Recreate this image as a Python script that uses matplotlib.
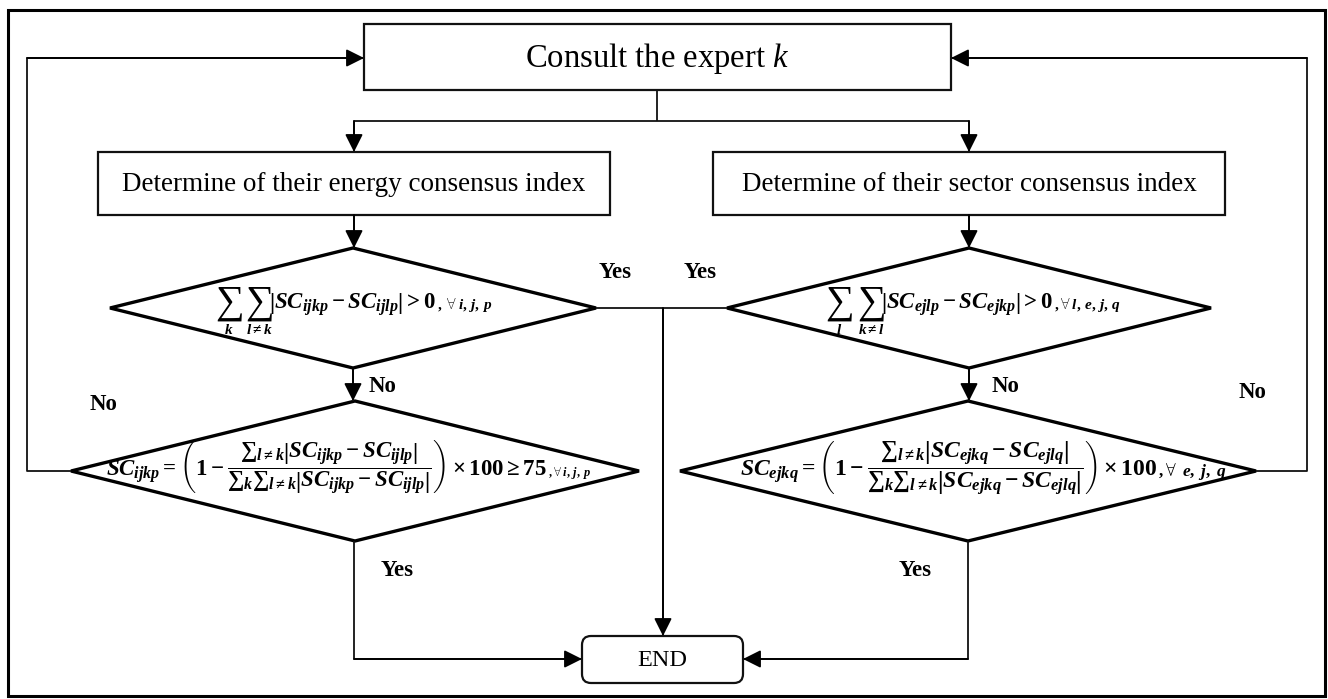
import matplotlib
matplotlib.use("Agg")
import matplotlib.pyplot as plt
from matplotlib.patches import Rectangle, Polygon, FancyBboxPatch

plt.rcParams['mathtext.fontset'] = 'custom'
plt.rcParams['mathtext.it'] = 'Liberation Serif:bold:italic'
plt.rcParams['mathtext.rm'] = 'Liberation Serif:bold'
plt.rcParams['mathtext.bf'] = 'Liberation Serif:bold'
plt.rcParams['mathtext.sf'] = 'Liberation Serif'
plt.rcParams['mathtext.cal'] = 'Liberation Serif:italic'

# ---- content ----
box_labels = [r"Consult the expert $\mathcal{k}$",
              "Determine of their energy consensus index",
              "Determine of their sector consensus index",
              "END"]
# condition diamonds: sum subscripts, body, tail
cond_energy_subs = [r"$k$", r"$l\neq k$"]
cond_energy_body = r"$\left|SC_{ijkp}-SC_{ijlp}\right|>0$"
cond_energy_tail = r"$\mathit{,\;\forall\;i,\,j,\,p}$"
cond_sector_subs = [r"$l$", r"$k\neq l$"]
cond_sector_body = r"$\left|SC_{ejlp}-SC_{ejkp}\right|>0$"
cond_sector_tail = r"$\mathit{,\forall\;l,\,e,\,j,\,q}$"
# index diamonds
idx_energy = (r"$SC_{ijkp}=\left(1-\dfrac{{\sum}_{l\neq k}\left|SC_{ijkp}-SC_{ijlp}\right|}"
              r"{{\sum}_{k}{\sum}_{l\neq k}\left|SC_{ijkp}-SC_{ijlp}\right|}\right)\times 100\geq 75$")
idx_energy_tail = r"$\mathit{,\forall\;i,\,j,\,p}$"
idx_sector = (r"$SC_{ejkq}=\left(1-\dfrac{{\sum}_{l\neq k}\left|SC_{ejkq}-SC_{ejlq}\right|}"
              r"{{\sum}_{k}{\sum}_{l\neq k}\left|SC_{ejkq}-SC_{ejlq}\right|}\right)\times 100$")
idx_sector_tail = r"$\mathit{,\forall\;\;e,\;j,\;q}$"
branch_labels = ["Yes", "Yes", "No", "No", "No", "No", "Yes", "Yes"]

# ---- layout (pixel units) ----
W, H = 1328, 699
fig = plt.figure(figsize=(W / 100, H / 100), dpi=100)
ax = fig.add_axes([0, 0, 1, 1])
ax.set_xlim(0, W)
ax.set_ylim(H, 0)
ax.axis('off')

serif = 'Liberation Serif'
LC = '#111111'

# outer frame
ax.add_patch(Rectangle((8, 10), 1317, 686, fill=False, lw=2.2, ec='black'))

def box(x0, y0, x1, y1, text, fs):
    ax.add_patch(Rectangle((x0, y0), x1 - x0, y1 - y0, fill=False, lw=1.6, ec=LC))
    ax.text((x0 + x1) / 2, (y0 + y1) / 2 + 1, text, ha='center', va='center',
            fontsize=fs, family=serif)

def diamond(cx, cy, hw, hh):
    ax.add_patch(Polygon([(cx, cy - hh), (cx + hw, cy), (cx, cy + hh), (cx - hw, cy)],
                         closed=True, fill=False, lw=2.4, ec='black', joinstyle='miter'))

def line(pts):
    xs, ys = zip(*pts)
    ax.plot(xs, ys, color=LC, lw=1.3, solid_capstyle='butt')

def arrow(pts):
    line(pts)
    ax.annotate('', xy=pts[-1], xytext=pts[-2],
                arrowprops=dict(arrowstyle='-|>,head_length=0.9,head_width=0.45',
                                color='black', lw=1.3, shrinkA=0, shrinkB=0,
                                mutation_scale=12))

def right_edge(t):
    fig.canvas.draw()
    bb = t.get_window_extent(fig.canvas.get_renderer())
    return ax.transData.inverted().transform((bb.x1, bb.y0))[0]

def sums(xs, y, subs):
    for x, s in zip(xs, subs):
        ax.text(x, y, r"$\mathsf{\sum}$", ha='center', va='center', fontsize=29)
        ax.text(x, y + 26, s, ha='center', va='center', fontsize=11)

# boxes
box(364, 24, 951, 90, box_labels[0], 23.5)
box(98, 152, 610, 215, box_labels[1], 19.5)
box(713, 152, 1225, 215, box_labels[2], 19.5)

# END rounded box
ax.add_patch(FancyBboxPatch((582, 636), 161, 47, boxstyle='round,pad=0,rounding_size=9',
                            fill=False, lw=1.6, ec=LC))
ax.text(662, 660, box_labels[3], ha='center', va='center', fontsize=17.5, family=serif)

# diamonds
diamond(353, 308, 243, 60)
diamond(969, 308, 242, 60)
diamond(355, 471, 284, 70)
diamond(968, 471, 288, 70)

# condition formulas
sums([229, 259], 303, cond_energy_subs)
t = ax.text(269, 309, cond_energy_body, ha='left', va='baseline', fontsize=16.5)
ax.text(right_edge(t) + 1, 309, cond_energy_tail, ha='left', va='baseline', fontsize=11)
sums([839, 871], 303, cond_sector_subs)
t = ax.text(881, 309, cond_sector_body, ha='left', va='baseline', fontsize=16.5)
ax.text(right_edge(t) + 1, 309, cond_sector_tail, ha='left', va='baseline', fontsize=11)

# index formulas
t = ax.text(106, 476, idx_energy, ha='left', va='baseline', fontsize=16.5)
ax.text(right_edge(t) + 1, 476, idx_energy_tail, ha='left', va='baseline', fontsize=9)
t = ax.text(740, 476, idx_sector, ha='left', va='baseline', fontsize=17)
ax.text(right_edge(t) + 1, 476, idx_sector_tail, ha='left', va='baseline', fontsize=12.5)

# connectors
line([(657, 90), (657, 121)])
arrow([(657, 121), (354, 121), (354, 152)])
arrow([(657, 121), (969, 121), (969, 152)])
arrow([(354, 215), (354, 248)])
arrow([(969, 215), (969, 248)])
arrow([(353, 368), (353, 401)])
arrow([(969, 368), (969, 401)])
line([(596, 308), (727, 308)])
arrow([(663, 308), (663, 636)])
arrow([(71, 471), (27, 471), (27, 58), (364, 58)])
arrow([(1256, 471), (1307, 471), (1307, 58), (951, 58)])
arrow([(354, 541), (354, 659), (582, 659)])
arrow([(968, 541), (968, 659), (743, 659)])

# branch labels
lab_pos = [(615, 272), (700, 272), (382, 386), (1005, 386), (103, 404), (1252, 392),
           (397, 571), (915, 571)]
for (x, y), s in zip(lab_pos, branch_labels):
    ax.text(x, y, s, ha='center', va='center', fontsize=16.5, family=serif, weight='bold')

fig.savefig('out.png', dpi=100)
